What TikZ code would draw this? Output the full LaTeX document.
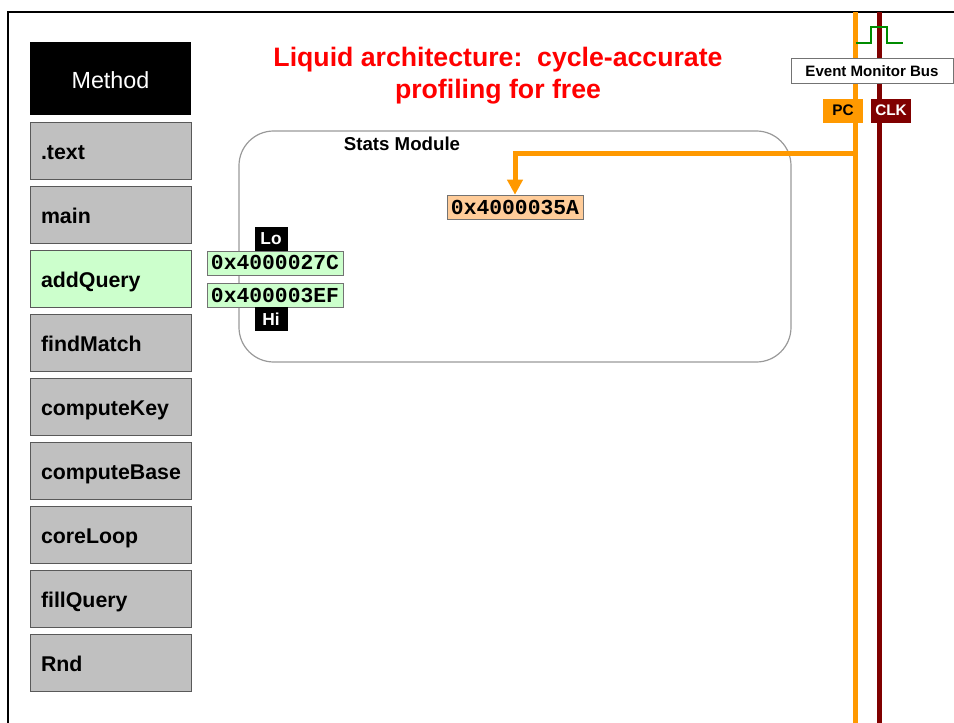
\documentclass[tikz,border=0pt]{standalone}
\usepackage{fontspec}
\setmainfont{Liberation Sans}
\setmonofont{Liberation Mono}
\usepackage{tikz}
\usepackage{xcolor}
\usetikzlibrary{calc,arrows.meta}

\definecolor{pcorange}{RGB}{255,153,0}
\definecolor{clkred}{RGB}{128,0,0}
\definecolor{boxgray}{RGB}{192,192,192}
\definecolor{hitgreen}{RGB}{204,255,204}
\definecolor{pcpeach}{RGB}{255,204,153}
\definecolor{pulsegreen}{RGB}{0,140,0}

\begin{document}
\begin{tikzpicture}[x=0.75pt,y=-0.75pt]
        \tikzstyle{every node}=[inner sep=0pt]
        \tikzstyle{func}=[draw=black!65, fill=boxgray, minimum height=42.75pt, text width=104.25pt, text height=14.2pt, text depth=0pt, inner xsep=8.25pt, align=left, font=\fontsize{16}{19}\selectfont\bfseries]
        \tikzstyle{addr}=[draw=black!55, minimum width=102pt, minimum height=18pt, font=\fontsize{16}{18}\selectfont\ttfamily\bfseries]
        \tikzstyle{tag}=[fill=black, text=white, minimum width=24.75pt, minimum height=18pt, font=\fontsize{13}{15}\selectfont\bfseries]
        \tikzstyle{sig}=[minimum width=30pt, minimum height=18pt, font=\fontsize{11.5}{13}\selectfont\bfseries]
        \useasboundingbox (0,0) rectangle (954,723);
        \draw[line width=2pt] (8,723) -- (8,12) -- (954,12);
        % Title
        \node[text=red, align=center, font=\fontsize{20}{24}\selectfont\bfseries] (title) at (498,75.5)
            {Liquid architecture:\ \ cycle-accurate\\profiling for free};
        % Method column
        \node[fill=black, text=white, minimum width=120.75pt, minimum height=54.75pt, text height=14.8pt, text depth=0pt, font=\fontsize{17.5}{20}\selectfont] (method) at (110.5,78.5) {Method};
        \node[func] (text) at (110.5,150.5) {.text};
        \node[func] (main) at ($(text)+(0,64)$) {main};
        \node[func, fill=hitgreen] (addQuery) at ($(main)+(0,64)$) {addQuery};
        \node[func] (findMatch) at ($(addQuery)+(0,64)$) {findMatch};
        \node[func] (computeKey) at ($(findMatch)+(0,64)$) {computeKey};
        \node[func] (computeBase) at ($(computeKey)+(0,64)$) {computeBase};
        \node[func] (coreLoop) at ($(computeBase)+(0,64)$) {coreLoop};
        \node[func] (fillQuery) at ($(coreLoop)+(0,64)$) {fillQuery};
        \node[func] (Rnd) at ($(fillQuery)+(0,64)$) {Rnd};
        % Stats module
        \node[draw=black!40, line width=0.9pt, rounded corners=26pt, minimum width=414pt, minimum height=173.25pt] (stats) at (515,246.5) {};
        \node[font=\fontsize{14}{16}\selectfont\bfseries] (statslabel) at (402,143.5) {Stats Module};
        % Bus lines
        \coordinate (pctop) at (855,12);
        \coordinate (pcbot) at (855,723);
        \coordinate (clktop) at (879,12);
        \coordinate (clkbot) at (879,723);
        \draw[pcorange, line width=3.75pt] (pctop) -- (pcbot);
        \draw[clkred, line width=3.75pt] (clktop) -- (clkbot);
        \draw[pulsegreen, line width=1.5pt] (856,43) -- (871,43) -- (871,27) -- (887,27) -- (887,43) -- (903,43);
        \node[draw=black!55, fill=white, minimum width=121.5pt, minimum height=18.75pt, font=\fontsize{11.3}{13}\selectfont\bfseries] (bus) at (872,71) {Event Monitor Bus};
        \node[sig, fill=pcorange] (pc) at (843,110.7) {PC};
        \node[sig, fill=clkred, text=white] (clk) at (891,110.7) {CLK};
        % Addresses
        \node[addr, fill=pcpeach] (pcval) at (515,207) {0x4000035A};
        \node[addr, fill=hitgreen] (lo) at (275,262.8) {0x4000027C};
        \node[addr, fill=hitgreen] (hi) at ($(lo)+(0,32.2)$) {0x400003EF};
        \node[tag] (lotag) at (271,238.7) {Lo};
        \node[tag] (hitag) at ($(lotag)+(0,80.3)$) {Hi};
        \coordinate (tap) at (855,154);
        \draw[pcorange, line width=3.75pt, -{Triangle[width=11.25pt,length=11.25pt]}] (tap) -| (pcval.north);
    \end{tikzpicture}
\end{document}
